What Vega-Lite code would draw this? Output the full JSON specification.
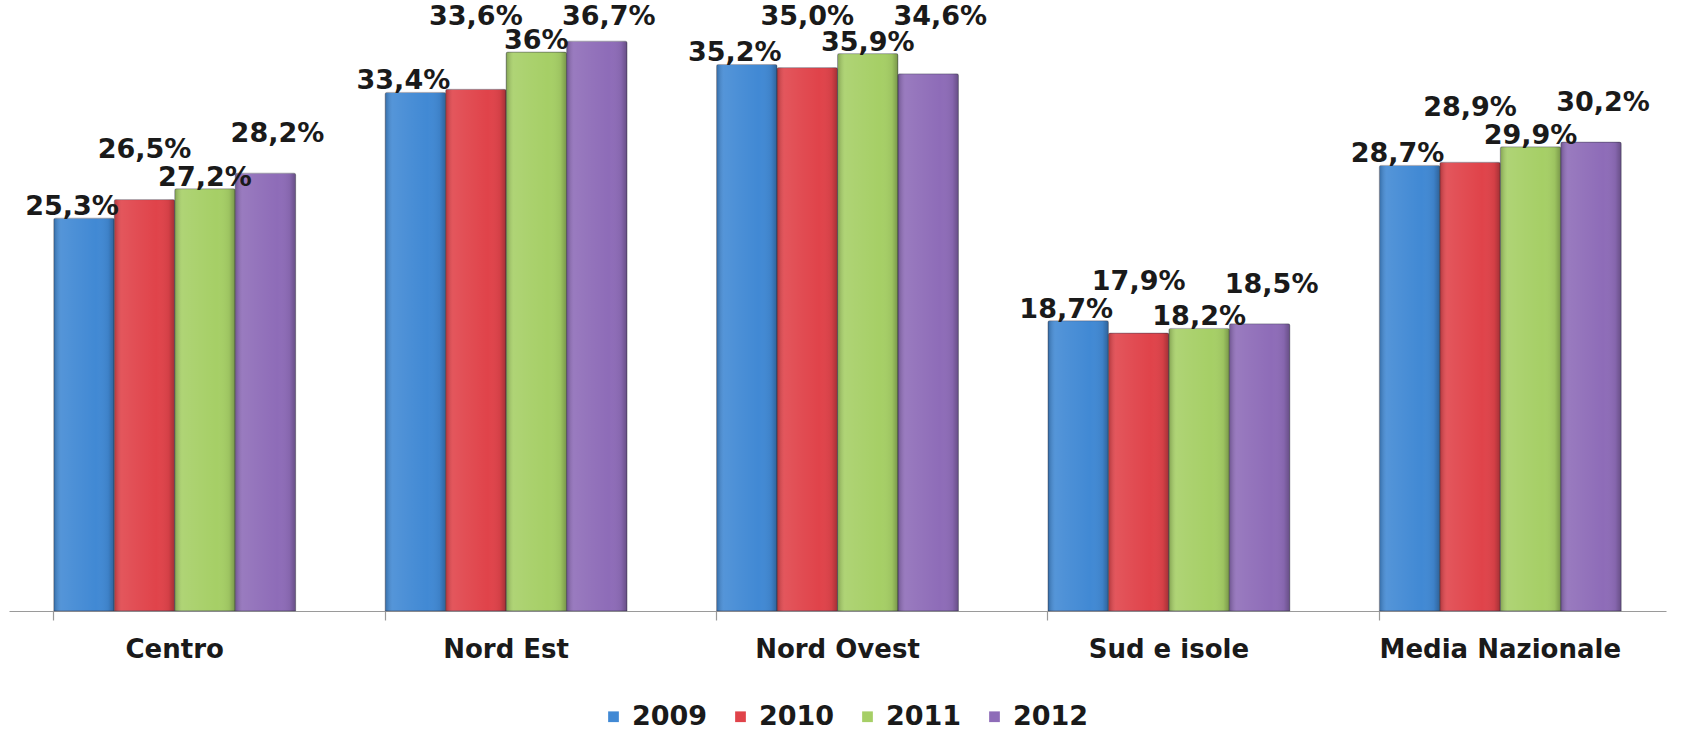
{
  "$schema": "https://vega.github.io/schema/vega-lite/v6.json",
  "width": 1657,
  "height": 590,
  "autosize": {"type": "none"},
  "padding": {"left": 9, "top": 21, "right": 41, "bottom": 121},
  "background": "white",
  "config": {
    "view": {"stroke": null},
    "font": "DejaVu Sans"
  },
  "data": {
    "values": [
      {"region": "Centro", "year": "2009", "value": 25.3, "label": "25,3%"},
      {"region": "Centro", "year": "2010", "value": 26.5, "label": "26,5%"},
      {"region": "Centro", "year": "2011", "value": 27.2, "label": "27,2%"},
      {"region": "Centro", "year": "2012", "value": 28.2, "label": "28,2%"},
      {"region": "Nord Est", "year": "2009", "value": 33.4, "label": "33,4%"},
      {"region": "Nord Est", "year": "2010", "value": 33.6, "label": "33,6%"},
      {"region": "Nord Est", "year": "2011", "value": 36.0, "label": "36%"},
      {"region": "Nord Est", "year": "2012", "value": 36.7, "label": "36,7%"},
      {"region": "Nord Ovest", "year": "2009", "value": 35.2, "label": "35,2%"},
      {"region": "Nord Ovest", "year": "2010", "value": 35.0, "label": "35,0%"},
      {"region": "Nord Ovest", "year": "2011", "value": 35.9, "label": "35,9%"},
      {"region": "Nord Ovest", "year": "2012", "value": 34.6, "label": "34,6%"},
      {"region": "Sud e isole", "year": "2009", "value": 18.7, "label": "18,7%"},
      {"region": "Sud e isole", "year": "2010", "value": 17.9, "label": "17,9%"},
      {"region": "Sud e isole", "year": "2011", "value": 18.2, "label": "18,2%"},
      {"region": "Sud e isole", "year": "2012", "value": 18.5, "label": "18,5%"},
      {"region": "Media Nazionale", "year": "2009", "value": 28.7, "label": "28,7%"},
      {"region": "Media Nazionale", "year": "2010", "value": 28.9, "label": "28,9%"},
      {"region": "Media Nazionale", "year": "2011", "value": 29.9, "label": "29,9%"},
      {"region": "Media Nazionale", "year": "2012", "value": 30.2, "label": "30,2%"}
    ]
  },
  "encoding": {
    "x": {
      "field": "region",
      "type": "nominal",
      "sort": ["Centro", "Nord Est", "Nord Ovest", "Sud e isole", "Media Nazionale"],
      "scale": {"paddingInner": 0.27, "paddingOuter": 0.135},
      "axis": {
        "title": null,
        "labelAngle": 0,
        "bandPosition": 0,
        "labelFont": "DejaVu Sans",
        "labelFontWeight": "bold",
        "labelFontSize": 26,
        "labelLimit": 0,
        "labelColor": "#1a1a1a",
        "labelPadding": 16,
        "tickSize": 9,
        "tickColor": "#9a9a9a",
        "domainColor": "#9a9a9a",
        "domainWidth": 1.2,
        "tickWidth": 1.2,
        "grid": false
      }
    },
    "xOffset": {
      "field": "year",
      "type": "nominal",
      "scale": {"paddingInner": 0, "paddingOuter": 0}
    },
    "y": {
      "field": "value",
      "type": "quantitative",
      "scale": {"domain": [0, 38], "nice": false, "zero": true},
      "axis": null
    }
  },
  "layer": [
    {
      "mark": {"type": "bar", "stroke": "rgba(60,60,80,0.35)", "strokeWidth": 1, "cornerRadiusTopLeft": 2, "cornerRadiusTopRight": 2},
      "encoding": {
        "color": {
          "field": "year",
          "type": "nominal",
          "scale": {"domain": ["2009", "2010", "2011", "2012"], "range": ["#4189d4", "#e0434a", "#a6cf66", "#8e6cb8"]},
          "legend": {
            "orient": "none",
            "legendX": 591,
            "legendY": 682,
            "direction": "horizontal",
            "title": null,
            "symbolType": "square",
            "symbolSize": 115,
            "symbolStrokeWidth": 0,
            "labelFont": "DejaVu Sans",
            "labelFontWeight": "bold",
            "labelFontSize": 27,
            "labelColor": "#1a1a1a",
            "labelOffset": 5,
            "columnPadding": 19,
            "labelLimit": 200
          }
        }
      }
    },
    {
      "mark": {
        "type": "bar",
        "color": {
          "gradient": "linear",
          "x1": 0, "x2": 1, "y1": 0, "y2": 0,
          "stops": [
            {"offset": 0, "color": "rgba(0,0,0,0.22)"},
            {"offset": 0.12, "color": "rgba(255,255,255,0.10)"},
            {"offset": 0.35, "color": "rgba(255,255,255,0.06)"},
            {"offset": 0.7, "color": "rgba(255,255,255,0)"},
            {"offset": 0.9, "color": "rgba(0,0,0,0.06)"},
            {"offset": 1, "color": "rgba(0,0,0,0.28)"}
          ]
        }
      }
    },
    {
      "transform": [
        {"window": [{"op": "row_number", "as": "idx"}], "groupby": ["region"], "sort": [{"field": "year"}]},
        {"window": [{"op": "max", "field": "value", "as": "nmax"}], "groupby": ["region"], "sort": [{"field": "year"}], "frame": [-1, 1]},
        {"calculate": "(datum.idx % 2 == 1) ? datum.value : min(datum.nmax + 1.8, 37.55)", "as": "labY"},
        {"filter": "datum.year == '2009'"}
      ],
      "mark": {"type": "text", "font": "DejaVu Sans", "fontWeight": "bold", "fontSize": 27, "color": "#1a1a1a", "baseline": "alphabetic", "dy": -3, "dx": -12},
      "encoding": {"y": {"field": "labY", "type": "quantitative"}, "text": {"field": "label"}}
    },
    {
      "transform": [
        {"window": [{"op": "row_number", "as": "idx"}], "groupby": ["region"], "sort": [{"field": "year"}]},
        {"window": [{"op": "max", "field": "value", "as": "nmax"}], "groupby": ["region"], "sort": [{"field": "year"}], "frame": [-1, 1]},
        {"calculate": "(datum.idx % 2 == 1) ? datum.value : min(datum.nmax + 1.8, 37.55)", "as": "labY"},
        {"filter": "datum.year == '2010' || datum.year == '2011'"}
      ],
      "mark": {"type": "text", "font": "DejaVu Sans", "fontWeight": "bold", "fontSize": 27, "color": "#1a1a1a", "baseline": "alphabetic", "dy": -3},
      "encoding": {"y": {"field": "labY", "type": "quantitative"}, "text": {"field": "label"}}
    },
    {
      "transform": [
        {"window": [{"op": "row_number", "as": "idx"}], "groupby": ["region"], "sort": [{"field": "year"}]},
        {"window": [{"op": "max", "field": "value", "as": "nmax"}], "groupby": ["region"], "sort": [{"field": "year"}], "frame": [-1, 1]},
        {"calculate": "(datum.idx % 2 == 1) ? datum.value : min(datum.nmax + 1.8, 37.55)", "as": "labY"},
        {"filter": "datum.year == '2012'"}
      ],
      "mark": {"type": "text", "font": "DejaVu Sans", "fontWeight": "bold", "fontSize": 27, "color": "#1a1a1a", "baseline": "alphabetic", "dy": -3, "dx": 12},
      "encoding": {"y": {"field": "labY", "type": "quantitative"}, "text": {"field": "label"}}
    }
  ]
}
